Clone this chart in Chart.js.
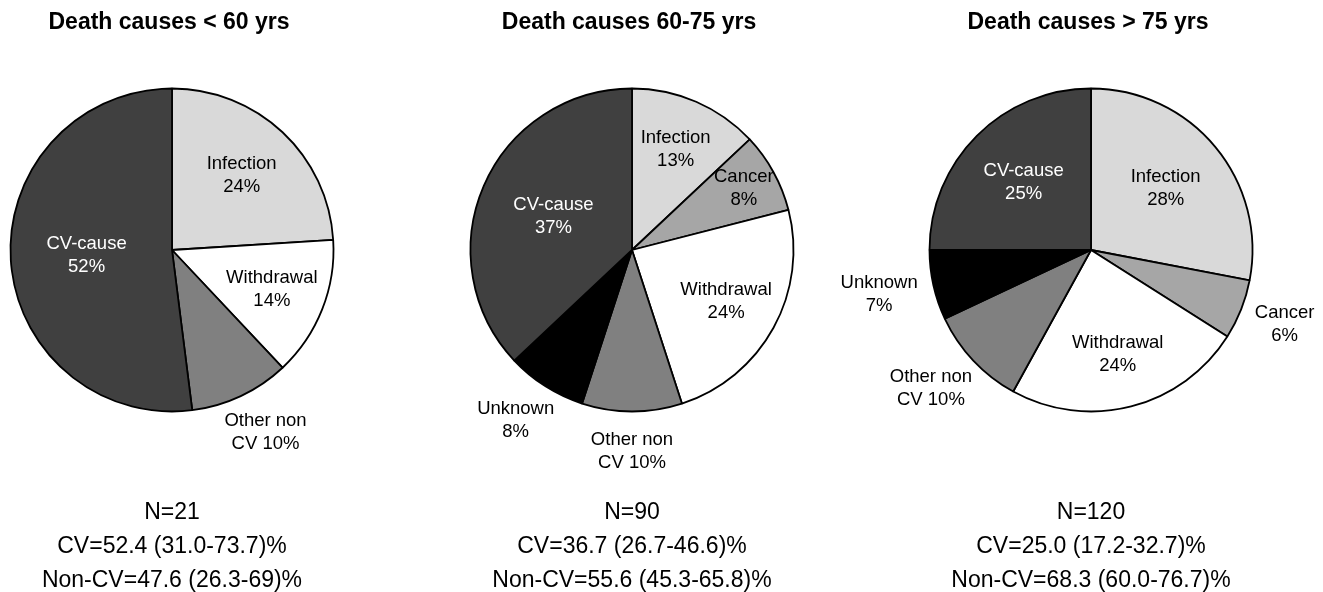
<!DOCTYPE html>
<html><head><meta charset="utf-8">
<script src="https://cdn.jsdelivr.net/npm/chart.js@4.4.0/dist/chart.umd.min.js"></script>
<style>
html,body{margin:0;padding:0;width:1323px;height:592px;overflow:hidden;background:#fff;font-family:'Liberation Sans',Arial,sans-serif;}
.wrap{position:absolute;top:0;width:580px;height:500px;}
.wrap canvas{position:absolute;left:0;top:0;}
.title{position:absolute;top:8px;width:460px;text-align:center;font-weight:bold;font-size:23px;line-height:27px;color:#000;white-space:nowrap;}
.notes{position:absolute;top:494px;width:460px;text-align:center;font-size:23px;line-height:34.2px;color:#000;white-space:nowrap;}
</style></head><body>
<script>
// ---- data ----
const titles = ['Death causes < 60 yrs', 'Death causes 60-75 yrs', 'Death causes > 75 yrs'];

const catsYoung = ['Infection', 'Withdrawal', 'Other non CV', 'CV-cause'];
const valsYoung = [24, 14, 10, 52];
const notesYoung = ['N=21', 'CV=52.4 (31.0-73.7)%', 'Non-CV=47.6 (26.3-69)%'];

const catsMid = ['Infection', 'Cancer', 'Withdrawal', 'Other non CV', 'Unknown', 'CV-cause'];
const valsMid = [13, 8, 24, 10, 8, 37];
const notesMid = ['N=90', 'CV=36.7 (26.7-46.6)%', 'Non-CV=55.6 (45.3-65.8)%'];

const catsOld = ['Infection', 'Cancer', 'Withdrawal', 'Other non CV', 'Unknown', 'CV-cause'];
const valsOld = [28, 6, 24, 10, 7, 25];
const notesOld = ['N=120', 'CV=25.0 (17.2-32.7)%', 'Non-CV=68.3 (60.0-76.7)%'];

// ---- style / layout ----
const sliceColor = {
  'Infection': '#d9d9d9', 'Cancer': '#a6a6a6', 'Withdrawal': '#ffffff',
  'Other non CV': '#808080', 'Unknown': '#000000', 'CV-cause': '#404040'
};
const insideTextColor = { 'CV-cause': '#ffffff' };
function labelLines(cat, v) {
  return cat === 'Other non CV' ? ['Other non', 'CV ' + v + '%'] : [cat, v + '%'];
}
const placeYoung = [0.63, 0.665, 'out', 0.53];
const placeMid = [0.68, 0.79, 0.665, 'out', 'out', 0.53];
const placeOld = [0.60, 'out', 0.665, 'out', 'out', 0.59];
const pieCenters = [172, 632, 1091];
const canvasW = 580;

const sliceLabels = {
  id: 'sliceLabels',
  afterDatasetsDraw(chart, args, opts) {
    const ctx = chart.ctx;
    const meta = chart.getDatasetMeta(0);
    const ds = chart.data.datasets[0];
    ctx.save();
    ctx.font = '18.5px "Liberation Sans", Arial, sans-serif';
    ctx.textAlign = 'center';
    ctx.textBaseline = 'middle';
    const lh = 23;
    meta.data.forEach((arc, i) => {
      const p = arc.getProps(['x', 'y', 'startAngle', 'endAngle', 'outerRadius'], true);
      const mid = (p.startAngle + p.endAngle) / 2;
      const ux = Math.cos(mid), uy = Math.sin(mid);
      const cat = chart.data.labels[i];
      const lines = labelLines(cat, ds.data[i]);
      const w = Math.max(...lines.map(l => ctx.measureText(l).width));
      const h = lines.length * lh;
      const place = opts.place[i];
      let cx, cy;
      if (place === 'out') {
        const r = p.outerRadius + opts.gap;
        cx = p.x + ux * r + ux * w / 2;
        cy = p.y + uy * r + uy * h / 2;
        ctx.fillStyle = '#000';
      } else {
        cx = p.x + ux * p.outerRadius * place;
        cy = p.y + uy * p.outerRadius * place;
        ctx.fillStyle = insideTextColor[cat] || '#000';
      }
      lines.forEach((l, k) => ctx.fillText(l, cx, cy - h / 2 + lh / 2 + k * lh));
    });
    ctx.restore();
  }
};

function makePie(idx, cats, vals, notes, place) {
  const cxp = pieCenters[idx];
  const wrap = document.createElement('div');
  wrap.className = 'wrap';
  wrap.style.left = (cxp - canvasW / 2) + 'px';
  document.body.appendChild(wrap);
  const cv = document.createElement('canvas');
  cv.width = canvasW; cv.height = 500;
  cv.style.width = canvasW + 'px'; cv.style.height = '500px';
  wrap.appendChild(cv);

  const t = document.createElement('div');
  t.className = 'title';
  t.style.left = (cxp - 233) + 'px';
  t.textContent = titles[idx];
  document.body.appendChild(t);

  const n = document.createElement('div');
  n.className = 'notes';
  n.style.left = (cxp - 230) + 'px';
  notes.forEach(s => { const d = document.createElement('div'); d.textContent = s; n.appendChild(d); });
  document.body.appendChild(n);

  new Chart(cv, {
    type: 'pie',
    data: {
      labels: cats,
      datasets: [{
        data: vals,
        backgroundColor: cats.map(c => sliceColor[c]),
        borderColor: '#000000',
        borderWidth: 1.8
      }]
    },
    options: {
      responsive: false,
      animation: false,
      devicePixelRatio: 1,
      events: [],
      radius: 161.5,
      layout: { padding: 0 },
      plugins: {
        legend: { display: false },
        tooltip: { enabled: false },
        title: { display: false },
        sliceLabels: { place: place, gap: 17 }
      }
    },
    plugins: [sliceLabels]
  });
}

makePie(0, catsYoung, valsYoung, notesYoung, placeYoung);
makePie(1, catsMid, valsMid, notesMid, placeMid);
makePie(2, catsOld, valsOld, notesOld, placeOld);
</script>
</body></html>
